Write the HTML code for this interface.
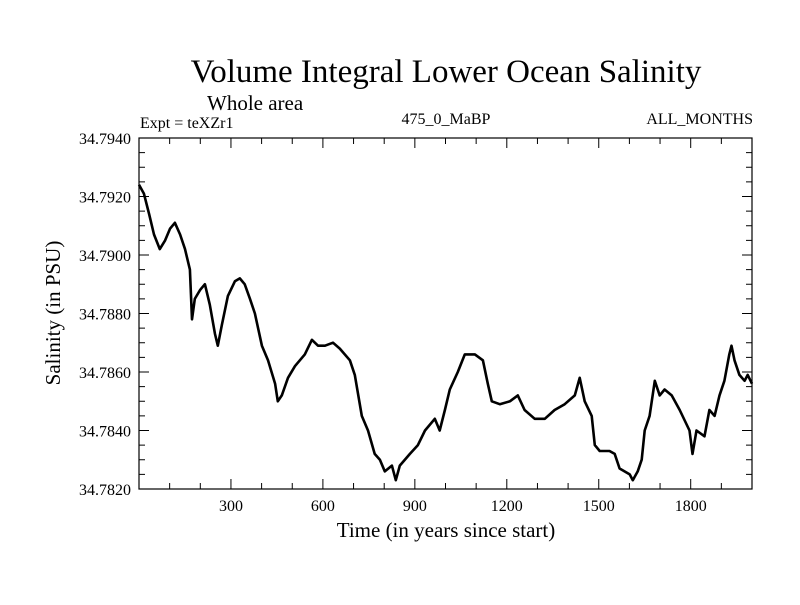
<!DOCTYPE html>
<html><head><meta charset="utf-8"><style>
body{margin:0;background:#fff}
svg text{font-family:"Liberation Serif",serif;fill:#000}
</style></head><body>
<svg width="800" height="600">
<rect width="800" height="600" fill="#fff"/>
<text x="446" y="82" font-size="33" text-anchor="middle">Volume Integral Lower Ocean Salinity</text>
<text x="207" y="110" font-size="21">Whole area</text>
<text x="140" y="128" font-size="16">Expt = teXZr1</text>
<text x="446" y="124" font-size="16" text-anchor="middle">475_0_MaBP</text>
<text x="753" y="124" font-size="16" text-anchor="end">ALL_MONTHS</text>
<g id="axes"></g>
<rect x="139" y="138" width="613" height="351" fill="none" stroke="#000" stroke-width="1.2"/>
<text x="446" y="537" font-size="21" text-anchor="middle">Time (in years since start)</text>
<text transform="translate(60,313) rotate(-90)" font-size="21" text-anchor="middle">Salinity (in PSU)</text>
</svg>
<script>
const years=[0,16,33,49,68,85,101,117,134,150,166,173,182,199,215,231,248,257,270,290,313,329,345,362,378,401,421,444,453,466,486,509,541,564,584,607,633,655,688,704,727,747,769,786,802,825,838,851,884,910,933,965,981,998,1014,1040,1063,1096,1122,1138,1151,1177,1210,1236,1258,1291,1324,1356,1389,1422,1438,1454,1477,1487,1503,1535,1552,1568,1601,1611,1627,1640,1650,1666,1683,1699,1715,1738,1764,1796,1806,1819,1845,1861,1878,1894,1910,1926,1933,1943,1959,1976,1986,2000];
const salinity=[34.7924,34.7921,34.7914,34.7907,34.7902,34.7905,34.7909,34.7911,34.7907,34.7902,34.7895,34.7878,34.7885,34.7888,34.7890,34.7883,34.7873,34.7869,34.7876,34.7886,34.7891,34.7892,34.7890,34.7885,34.7880,34.7869,34.7864,34.7856,34.7850,34.7852,34.7858,34.7862,34.7866,34.7871,34.7869,34.7869,34.7870,34.7868,34.7864,34.7859,34.7845,34.7840,34.7832,34.7830,34.7826,34.7828,34.7823,34.7828,34.7832,34.7835,34.7840,34.7844,34.7840,34.7847,34.7854,34.7860,34.7866,34.7866,34.7864,34.7856,34.7850,34.7849,34.7850,34.7852,34.7847,34.7844,34.7844,34.7847,34.7849,34.7852,34.7858,34.7850,34.7845,34.7835,34.7833,34.7833,34.7832,34.7827,34.7825,34.7823,34.7826,34.7830,34.7840,34.7845,34.7857,34.7852,34.7854,34.7852,34.7847,34.7840,34.7832,34.7840,34.7838,34.7847,34.7845,34.7852,34.7857,34.7866,34.7869,34.7864,34.7859,34.7857,34.7859,34.7856];
const xTickLabels=[300,600,900,1200,1500,1800];
const yTickLabels=["34.7820","34.7840","34.7860","34.7880","34.7900","34.7920","34.7940"];
const L=139,R=752,T=138,B=489,X0=0,X1=2000,Y0=34.782,Y1=34.794;
const sx=v=>L+(v-X0)/(X1-X0)*(R-L);
const sy=v=>B-(v-Y0)/(Y1-Y0)*(B-T);
const NS="http://www.w3.org/2000/svg";
const g=document.getElementById('axes');
function mk(t,a){const e=document.createElementNS(NS,t);for(const k in a)e.setAttribute(k,a[k]);g.appendChild(e);return e;}
for(let y=100;y<2000;y+=100){
  const major=y%300===0;
  const len=major?10:6;
  const t1=mk('line',{x1:sx(y),x2:sx(y),y1:B,y2:B-len,stroke:'#000','stroke-width':1});
  
  
  const t2=mk('line',{x1:sx(y),x2:sx(y),y1:T,y2:T+len,stroke:'#000','stroke-width':1});
  
  
}
xTickLabels.forEach(v=>{
  const t=mk('text',{x:sx(v),y:B+22,'font-size':16,'text-anchor':'middle'});
  t.textContent=v;
  
  
});
for(let i=0;i<=24;i++){
  const v=Y0+i*0.0005;const major=i%4===0;const len=major?10:6;
  const a=mk('line',{x1:L,x2:L+len,y1:sy(v),y2:sy(v),stroke:'#000','stroke-width':1});
  
  
  const b=mk('line',{x1:R,x2:R-len,y1:sy(v),y2:sy(v),stroke:'#000','stroke-width':1});
  
  
}
yTickLabels.forEach(s=>{
  const t=mk('text',{x:131,y:sy(parseFloat(s))+6,'font-size':16,'text-anchor':'end'});
  t.textContent=s;
  
  
});
const d=years.map((y,i)=>(i?'L':'M')+sx(y).toFixed(1)+','+sy(salinity[i]).toFixed(1)).join('');
const p=mk('path',{d:d,fill:'none',stroke:'#000','stroke-width':2.6,'stroke-linejoin':'round'});


</script>
</body></html>
